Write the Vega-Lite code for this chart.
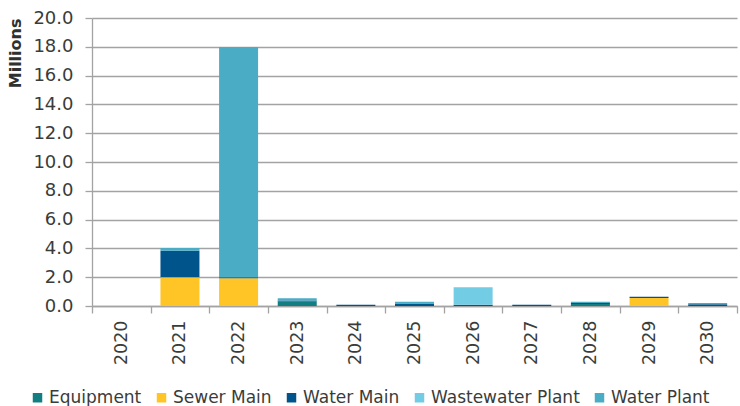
{
  "$schema": "https://vega.github.io/schema/vega-lite/v6.json",
  "width": 645,
  "height": 288,
  "autosize": {"type": "none"},
  "padding": {"left": 92, "top": 18, "right": 3, "bottom": 100},
  "background": "white",
  "config": {
    "view": {"stroke": null},
    "font": "DejaVu Sans"
  },
  "data": {
    "values": [
      {"year": "2021", "category": "Sewer Main", "value": 2.0},
      {"year": "2021", "category": "Water Main", "value": 1.84},
      {"year": "2021", "category": "Water Plant", "value": 0.18},
      {"year": "2022", "category": "Sewer Main", "value": 1.93},
      {"year": "2022", "category": "Water Main", "value": 0.07},
      {"year": "2022", "category": "Water Plant", "value": 15.98},
      {"year": "2023", "category": "Equipment", "value": 0.33},
      {"year": "2023", "category": "Water Main", "value": 0.05},
      {"year": "2023", "category": "Water Plant", "value": 0.15},
      {"year": "2024", "category": "Water Main", "value": 0.09},
      {"year": "2025", "category": "Water Main", "value": 0.18},
      {"year": "2025", "category": "Water Plant", "value": 0.12},
      {"year": "2026", "category": "Water Main", "value": 0.08},
      {"year": "2026", "category": "Wastewater Plant", "value": 1.22},
      {"year": "2027", "category": "Water Main", "value": 0.09},
      {"year": "2028", "category": "Equipment", "value": 0.14},
      {"year": "2028", "category": "Water Main", "value": 0.06},
      {"year": "2028", "category": "Water Plant", "value": 0.1},
      {"year": "2029", "category": "Sewer Main", "value": 0.56},
      {"year": "2029", "category": "Water Main", "value": 0.09},
      {"year": "2030", "category": "Water Main", "value": 0.12},
      {"year": "2030", "category": "Water Plant", "value": 0.09}
    ]
  },
  "transform": [
    {
      "calculate": "indexof(['Equipment', 'Sewer Main', 'Water Main', 'Wastewater Plant', 'Water Plant'], datum.category)",
      "as": "stackOrder"
    }
  ],
  "mark": {"type": "bar", "width": {"band": 0.665}},
  "encoding": {
    "x": {
      "field": "year",
      "type": "ordinal",
      "scale": {
        "domain": ["2020", "2021", "2022", "2023", "2024", "2025", "2026", "2027", "2028", "2029", "2030"],
        "paddingInner": 0,
        "paddingOuter": 0
      },
      "axis": {
        "title": null,
        "labelAngle": -90,
        "labelFontSize": 17.5,
        "labelColor": "#3a3c3a",
        "labelPadding": 7,
        "tickBand": "extent",
        "tickSize": 7,
        "tickColor": "#a3a3a3",
        "tickWidth": 1.3,
        "domainColor": "#a3a3a3",
        "domainWidth": 1.3,
        "grid": false
      }
    },
    "y": {
      "field": "value",
      "type": "quantitative",
      "stack": "zero",
      "scale": {"domain": [0, 20], "nice": false},
      "axis": {
        "title": "Millions",
        "titleFontSize": 16,
        "titleFontWeight": "bold",
        "titleColor": "#2f312f",
        "titleAnchor": "end",
        "titlePadding": 9,
        "values": [0, 2, 4, 6, 8, 10, 12, 14, 16, 18, 20],
        "format": ".1f",
        "labelFontSize": 18,
        "labelColor": "#3a3c3a",
        "labelPadding": 12,
        "tickSize": 7,
        "tickColor": "#a3a3a3",
        "tickWidth": 1.3,
        "domainColor": "#a3a3a3",
        "domainWidth": 1.3,
        "grid": true,
        "gridColor": "#a3a3a3",
        "gridWidth": 1.3
      }
    },
    "order": {"field": "stackOrder", "type": "quantitative", "sort": "ascending"},
    "color": {
      "field": "category",
      "type": "nominal",
      "sort": ["Equipment", "Sewer Main", "Water Main", "Wastewater Plant", "Water Plant"],
      "scale": {
        "domain": ["Equipment", "Sewer Main", "Water Main", "Wastewater Plant", "Water Plant"],
        "range": ["#127e81", "#ffc425", "#00548c", "#72cde4", "#4bacc6"]
      },
      "legend": {
        "title": null,
        "orient": "none",
        "legendX": -63,
        "legendY": 371,
        "direction": "horizontal",
        "columns": 5,
        "padding": 0,
        "symbolType": "square",
        "symbolSize": 90,
        "symbolStrokeWidth": 0,
        "labelFontSize": 17,
        "labelColor": "#3a3c3a",
        "labelOffset": 3,
        "columnPadding": 11
      }
    }
  }
}
